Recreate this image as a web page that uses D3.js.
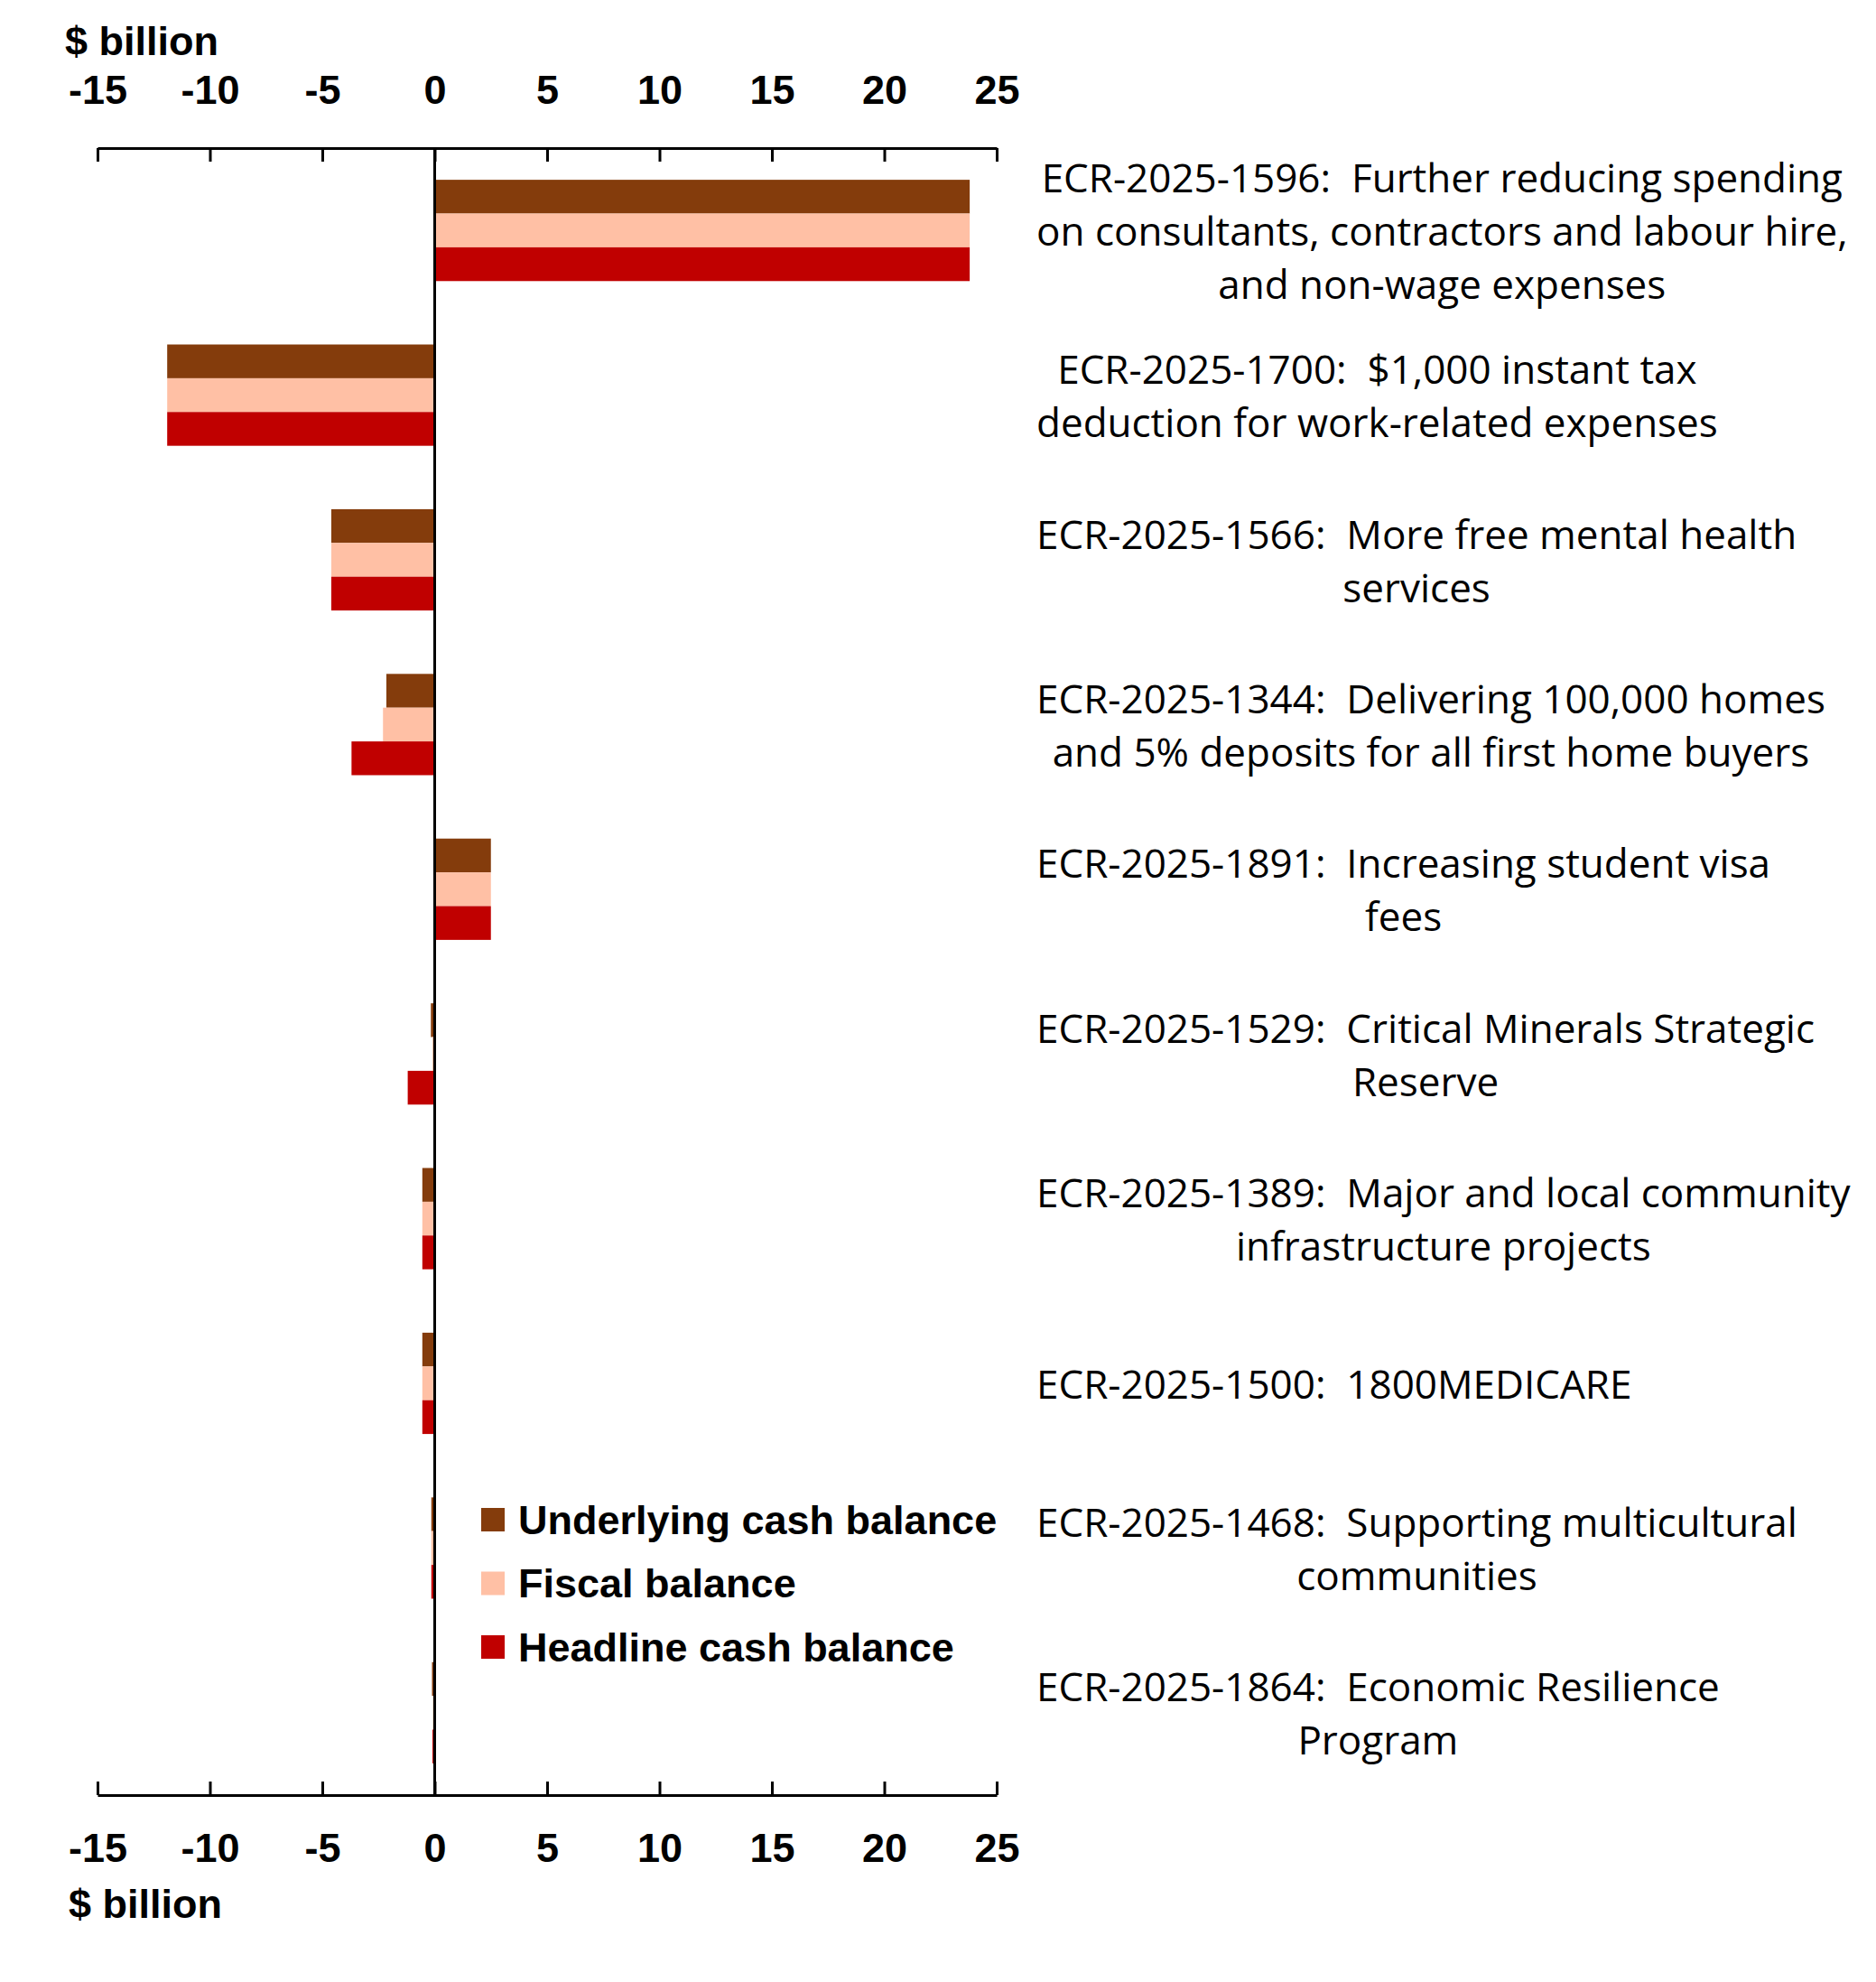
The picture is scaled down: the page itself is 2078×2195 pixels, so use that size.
<!DOCTYPE html>
<html>
<head>
<meta charset="utf-8">
<script src="https://cdn.jsdelivr.net/npm/d3@7"></script>
<style>
  body { margin: 0; background: #fff; }
  svg { display: block; }
</style>
</head>
<body>
<div id="chart"></div>
<script>
// categories (each label split into its wrapped lines)
const categories = [
  ["ECR-2025-1596:  Further reducing spending", "on consultants, contractors and labour hire,", "and non-wage expenses"],
  ["ECR-2025-1700:  $1,000 instant tax", "deduction for work-related expenses"],
  ["ECR-2025-1566:  More free mental health", "services"],
  ["ECR-2025-1344:  Delivering 100,000 homes", "and 5% deposits for all first home buyers"],
  ["ECR-2025-1891:  Increasing student visa", "fees"],
  ["ECR-2025-1529:  Critical Minerals Strategic", "Reserve"],
  ["ECR-2025-1389:  Major and local community", "infrastructure projects"],
  ["ECR-2025-1500:  1800MEDICARE"],
  ["ECR-2025-1468:  Supporting multicultural", "communities"],
  ["ECR-2025-1864:  Economic Resilience", "Program"]
];
const seriesNames = ["Underlying cash balance", "Fiscal balance", "Headline cash balance"];
const underlying = [23.8, -11.9, -4.6, -2.15, 2.5, -0.17, -0.55, -0.55, -0.15, -0.12];
const fiscal     = [23.8, -11.9, -4.6, -2.3, 2.5, -0.1, -0.55, -0.55, -0.15, -0.08];
const headline   = [23.8, -11.9, -4.6, -3.7, 2.5, -1.2, -0.55, -0.55, -0.15, -0.1];
const xTicks = [-15, -10, -5, 0, 5, 10, 15, 20, 25];

const colors = ["#843C0C", "#FFC0A5", "#C00000"];
const boldFont = "'Liberation Sans', Arial, sans-serif";
const labelFont = "'Open Sans', sans-serif";

var width = 2078,
    height = 2195,
    plotTop = 164,
    plotBottom = 1988

var svg = d3.select('#chart')
    .append('svg')
    .attr('width', width)
    .attr('height', height)

svg.append('rect')
    .attr('width', width)
    .attr('height', height)
    .attr('fill', '#fff')

let x = d3.scaleLinear()
    .domain([-15, 25])
    .range([108, 1104])

let ids = categories.map((d, i) => i)
let y = d3.scaleBand()
    .domain(ids)
    .range([plotTop, plotBottom])
    .paddingInner(0.385)
    .paddingOuter(0.1925)

let ySub = d3.scaleBand()
    .domain(seriesNames)
    .range([0, y.bandwidth()])

const series = [underlying, fiscal, headline]
let rows = []
ids.forEach(i => {
    series.forEach((s, j) => rows.push({cat: i, name: seriesNames[j], color: colors[j], value: s[i]}))
})

// bars
svg.append('g')
    .selectAll('rect')
    .data(rows)
    .enter()
    .append('rect')
    .attr('x', d => x(Math.min(0, d.value)))
    .attr('width', d => Math.abs(x(d.value) - x(0)))
    .attr('y', d => y(d.cat) + ySub(d.name))
    .attr('height', ySub.bandwidth())
    .attr('fill', d => d.color)

// axes
const styleAxis = g => {
    g.attr('font-size', null).attr('font-family', null)
    g.select('.domain').attr('stroke', '#000').attr('stroke-width', 3)
    g.selectAll('.tick line').attr('stroke', '#000').attr('stroke-width', 3)
    g.selectAll('.tick text')
        .attr('fill', '#000')
        .style('font-family', boldFont)
        .style('font-weight', 'bold')
        .style('font-size', '45px')
}

svg.append('g')
    .attr('transform', 'translate(0,' + plotTop + ')')
    .call(d3.axisTop(x).tickValues(xTicks).tickFormat(d => String(d))
        .tickSizeInner(-15).tickSizeOuter(0).tickPadding(49))
    .call(styleAxis)

svg.append('g')
    .attr('transform', 'translate(0,' + plotBottom + ')')
    .call(d3.axisBottom(x).tickValues(xTicks).tickFormat(d => String(d))
        .tickSizeInner(-15).tickSizeOuter(0).tickPadding(42))
    .call(styleAxis)

// zero line
svg.append('line')
    .attr('x1', x(0))
    .attr('x2', x(0))
    .attr('y1', plotTop)
    .attr('y2', plotBottom)
    .attr('stroke', '#000')
    .attr('stroke-width', 3)

// unit labels
svg.append('text')
    .attr('x', 72)
    .attr('y', 61)
    .style('font-family', boldFont)
    .style('font-weight', 'bold')
    .style('font-size', '45px')
    .text('$ billion')

svg.append('text')
    .attr('x', 76)
    .attr('y', 2124)
    .style('font-family', boldFont)
    .style('font-weight', 'bold')
    .style('font-size', '45px')
    .text('$ billion')

// category labels, each block left-aligned on its widest line, lines centred
const labelLeft = 1148,
    lineHeight = 59

let labels = svg.append('g')
    .selectAll('g')
    .data(categories)
    .enter()
    .append('g')

labels.each(function(lines, i) {
    let g = d3.select(this)
    let cy = y(i) + y.bandwidth() / 2
    let texts = g.selectAll('text')
        .data(lines)
        .enter()
        .append('text')
        .attr('y', (d, k) => cy + (k - (lines.length - 1) / 2) * lineHeight)
        .attr('dominant-baseline', 'central')
        .attr('text-anchor', 'middle')
        .style('font-family', labelFont)
        .style('font-size', '44px')
        .style('white-space', 'pre')
        .text(d => d)
    let maxW = d3.max(texts.nodes(), n => n.getComputedTextLength())
    texts.attr('x', labelLeft + maxW / 2)
})

// legend
let legend = svg.append('g')
    .selectAll('g')
    .data(seriesNames)
    .enter()
    .append('g')
    .attr('transform', (d, i) => 'translate(533,' + (1683 + i * 70.5) + ')')

legend.append('rect')
    .attr('x', 0)
    .attr('y', -13)
    .attr('width', 26)
    .attr('height', 26)
    .attr('fill', (d, i) => colors[i])

legend.append('text')
    .attr('x', 41)
    .attr('y', 0)
    .attr('dominant-baseline', 'central')
    .style('font-family', boldFont)
    .style('font-weight', 'bold')
    .style('font-size', '45px')
    .text(d => d)
</script>
</body>
</html>
